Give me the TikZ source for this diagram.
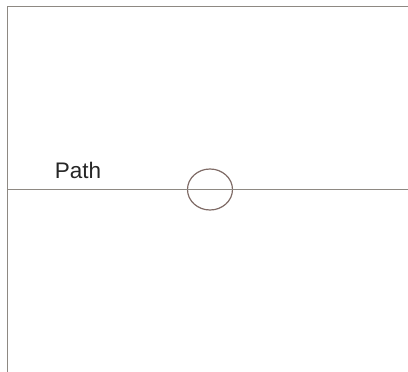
\documentclass[tikz,border=0pt]{standalone}
\usepackage{fontspec}
\setmainfont{Liberation Sans}
\usetikzlibrary{shapes.geometric}
\definecolor{FrameGrey}{HTML}{8E8983}
\definecolor{RingBrown}{HTML}{7F6B66}

\begin{document}
\begin{tikzpicture}[x=1pt, y=-1pt,
  frame/.style={draw=FrameGrey, line width=1.8pt},
  track/.style={draw=FrameGrey, line width=1.4pt},
  ring/.style={ellipse, draw=RingBrown, line width=1.2pt,
               minimum width=45pt, minimum height=41pt, inner sep=0pt},
  tracktext/.style={anchor=base, font=\fontsize{22.5}{27}\selectfont, text=black!85}
]
\useasboundingbox (0,0) rectangle (408,372);
\coordinate (corner) at (7.5,6.5);
\coordinate (topend) at (408,6.5);
\coordinate (leftend) at (7.5,372);
\coordinate (trackstart) at (7.5,189.5);
\coordinate (trackend) at (408,189.5);
\node[ring] (hole) at (210,189.5) {};
\node[tracktext] (pathname) at (78,178) {Path};
\draw[frame] (topend) -- (corner) -- (leftend);
\draw[track] (trackstart) -- (hole.west);
\draw[track] (hole.west) -- (hole.east);
\draw[track] (hole.east) -- (trackend);
\end{tikzpicture}
\end{document}
